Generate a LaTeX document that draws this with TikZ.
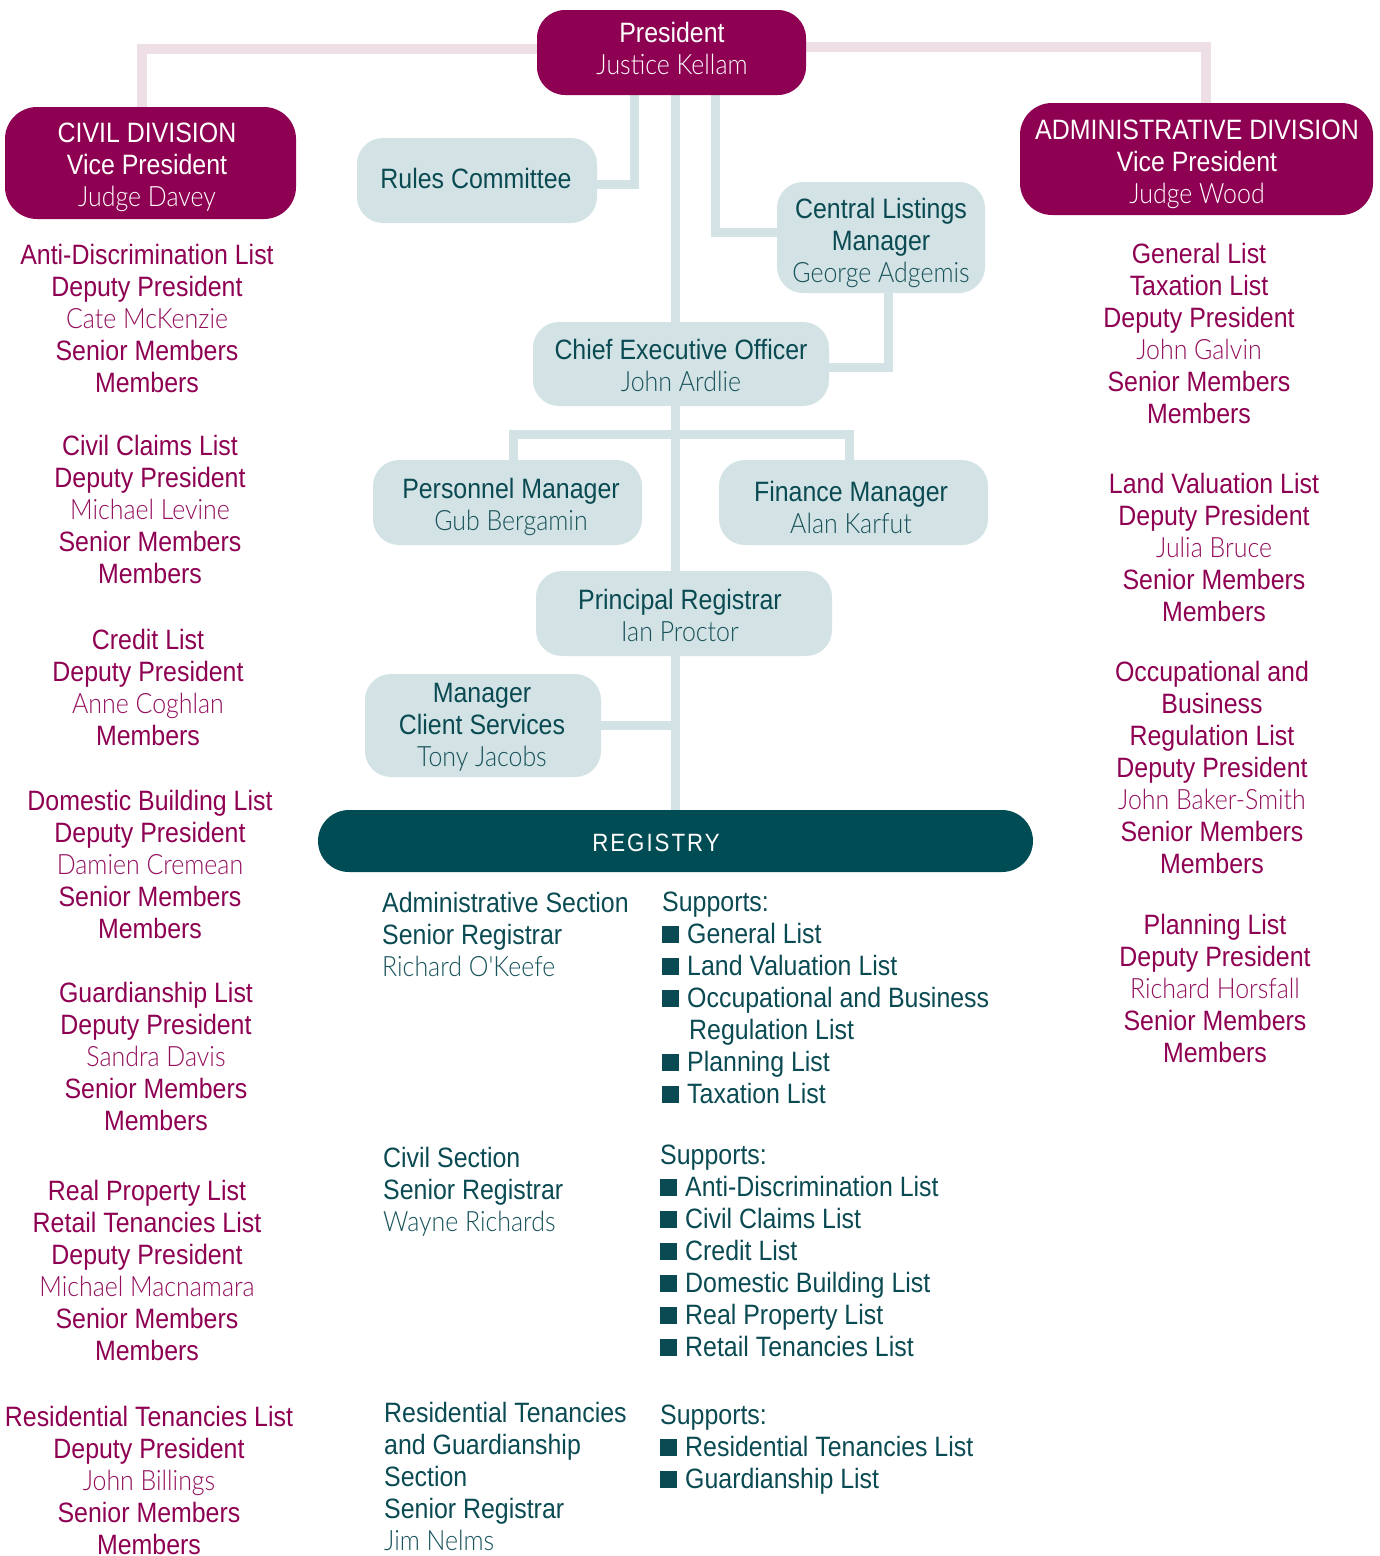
\documentclass[tikz,border=0pt]{standalone}
\usepackage{fontspec}
\setmainfont{Liberation Sans}[FakeStretch=0.89]
\newfontfamily\lightfont{Lato Light}[FakeStretch=0.89]
\usetikzlibrary{calc,backgrounds}

\definecolor{maroon}{HTML}{8E0052}
\definecolor{maroonlt}{HTML}{930F5C}
\definecolor{tealdk}{HTML}{0A4A52}
\definecolor{teallt}{HTML}{17525A}
\definecolor{tealbar}{HTML}{004C55}
\definecolor{tealfill}{HTML}{D3E2E4}
\definecolor{pinkline}{HTML}{EEDFE7}

% text variants used inside the line stacks
\newcommand\MarT{\color{maroon}}
\newcommand\MarN{\color{maroonlt}\lightfont}
\newcommand\TeaT{\color{tealdk}}
\newcommand\TeaN{\color{teallt}\lightfont}
\newcommand\WhT{\color{white}}
\newcommand\WhN{\color{white}\lightfont}
\newcommand\TeaB{\color{tealdk}\rule{17pt}{17pt}\hspace{8pt}}
\newcommand\TeaI{\color{tealdk}\hspace{27pt}}

% #1 style, #2 x, #3 first baseline, #4 name prefix, #5 variant/text pairs
\newcommand\linestack[5]{%
  \foreach \f/\t [count=\i from 0] in {#5}{%
    \node[#1] (#4\i) at (#2, #3+32*\i) {\f\t};
  }}

\tikzset{
  mbox/.style={rounded corners=28pt, fill=maroon, inner sep=0pt},
  tbox/.style={rounded corners=26pt, fill=tealfill, inner sep=0pt},
  pinkc/.style={draw=pinkline, line width=10pt, line join=miter},
  tealc/.style={draw=tealfill, line width=9pt, line join=miter},
  lc/.style={anchor=base, inner sep=0pt, font=\fontsize{28}{32}\selectfont},
  ll/.style={anchor=base west, inner sep=0pt, font=\fontsize{28}{32}\selectfont},
}

\begin{document}
\begin{tikzpicture}[x=1pt, y=-1pt]
\useasboundingbox (0,0) rectangle (1380,1556);

% boxes (shapes only; their text is set below)
\node[mbox, minimum width=269pt, minimum height=85pt] (pres) at (671.5,52.5) {};
\node[mbox, minimum width=291pt, minimum height=112pt, rounded corners=32pt] (civil) at (150.5,163) {};
\node[mbox, minimum width=353pt, minimum height=112pt, rounded corners=32pt] (admin) at (1196.5,159) {};
\node[tbox, minimum width=240pt, minimum height=85pt] (rules) at (477,180.5) {};
\node[tbox, minimum width=208pt, minimum height=111pt] (clm) at (881,237.5) {};
\node[tbox, minimum width=296pt, minimum height=84pt] (ceo) at (681,364) {};
\node[tbox, minimum width=269pt, minimum height=85pt] (pers) at (507.5,502.5) {};
\node[tbox, minimum width=269pt, minimum height=85pt] (fin) at (853.5,502.5) {};
\node[tbox, minimum width=296pt, minimum height=85pt] (pr) at (684,613.5) {};
\node[tbox, minimum width=236pt, minimum height=103pt] (mcs) at (483,725.5) {};
\node[fill=tealbar, rounded corners=31pt, inner sep=0pt, minimum width=715pt, minimum height=62pt] (reg) at (675.5,841) {};

% connectors, drawn behind the boxes
\begin{scope}[on background layer]
  \draw[pinkc] ([yshift=4pt]pres.west) -| ([xshift=-9pt]civil.north);
  \draw[pinkc] ([yshift=6pt]pres.east) -| ([xshift=9pt]admin.north);
  \draw[tealc] ([xshift=-37pt]pres.south) |- ([yshift=-3.5pt]rules.east);
  \draw[tealc] (pres.south -| reg.north) -- (reg.north);
  \draw[tealc] ([xshift=44pt]pres.south) |- ([yshift=5pt]clm.west);
  \draw[tealc] ([xshift=7pt]clm.south) |- ([yshift=-3pt]ceo.east);
  \draw[tealc] ([xshift=6pt]pers.north) -- ++(0,-25) -| ([xshift=-4pt]fin.north);
  \draw[tealc] (mcs.east) -- (mcs.east -| reg.north);
\end{scope}

% box texts
\linestack{lc}{672}{42}{pres-}{\WhT/President, \WhN/Justice Kellam}
\linestack{lc}{147}{142}{civil-}{\WhT/CIVIL DIVISION, \WhT/Vice President, \WhN/Judge Davey}
\linestack{lc}{1197}{139}{admin-}{\WhT/ADMINISTRATIVE DIVISION, \WhT/Vice President, \WhN/Judge Wood}
\linestack{lc}{476}{188}{rules-}{\TeaT/Rules Committee}
\linestack{lc}{881}{218}{clm-}{\TeaT/Central Listings, \TeaT/Manager, \TeaN/George Adgemis}
\linestack{lc}{681}{359}{ceo-}{\TeaT/Chief Executive Officer, \TeaN/John Ardlie}
\linestack{lc}{511}{498}{pers-}{\TeaT/Personnel Manager, \TeaN/Gub Bergamin}
\linestack{lc}{851}{501}{fin-}{\TeaT/Finance Manager, \TeaN/Alan Karfut}
\linestack{lc}{680}{609}{pr-}{\TeaT/Principal Registrar, \TeaN/Ian Proctor}
\linestack{lc}{482}{702}{mcs-}{\TeaT/Manager, \TeaT/Client Services, \TeaN/Tony Jacobs}
\node[lc, font=\fontsize{25}{30}\selectfont\addfontfeature{LetterSpace=8}, text=white] (reg-t) at (656,851) {REGISTRY};

% civil division lists
\linestack{lc}{147}{264}{cl1-}{\MarT/Anti-Discrimination List, \MarT/Deputy President, \MarN/Cate McKenzie, \MarT/Senior Members, \MarT/Members}
\linestack{lc}{150}{455}{cl2-}{\MarT/Civil Claims List, \MarT/Deputy President, \MarN/Michael Levine, \MarT/Senior Members, \MarT/Members}
\linestack{lc}{148}{649}{cl3-}{\MarT/Credit List, \MarT/Deputy President, \MarN/Anne Coghlan, \MarT/Members}
\linestack{lc}{150}{810}{cl4-}{\MarT/Domestic Building List, \MarT/Deputy President, \MarN/Damien Cremean, \MarT/Senior Members, \MarT/Members}
\linestack{lc}{156}{1002}{cl5-}{\MarT/Guardianship List, \MarT/Deputy President, \MarN/Sandra Davis, \MarT/Senior Members, \MarT/Members}
\linestack{lc}{147}{1200}{cl6-}{\MarT/Real Property List, \MarT/Retail Tenancies List, \MarT/Deputy President, \MarN/Michael Macnamara, \MarT/Senior Members, \MarT/Members}
\linestack{lc}{149}{1426}{cl7-}{\MarT/Residential Tenancies List, \MarT/Deputy President, \MarN/John Billings, \MarT/Senior Members, \MarT/Members}

% administrative division lists
\linestack{lc}{1199}{263}{al1-}{\MarT/General List, \MarT/Taxation List, \MarT/Deputy President, \MarN/John Galvin, \MarT/Senior Members, \MarT/Members}
\linestack{lc}{1214}{493}{al2-}{\MarT/Land Valuation List, \MarT/Deputy President, \MarN/Julia Bruce, \MarT/Senior Members, \MarT/Members}
\linestack{lc}{1212}{681}{al3-}{\MarT/Occupational and, \MarT/Business, \MarT/Regulation List, \MarT/Deputy President, \MarN/John Baker-Smith, \MarT/Senior Members, \MarT/Members}
\linestack{lc}{1215}{934}{al4-}{\MarT/Planning List, \MarT/Deputy President, \MarN/Richard Horsfall, \MarT/Senior Members, \MarT/Members}

% registry sections
\linestack{ll}{382}{912}{rs1-}{\TeaT/Administrative Section, \TeaT/Senior Registrar, \TeaN/Richard O'Keefe}
\linestack{ll}{662}{911}{sp1-}{\TeaT/Supports:, \TeaB/General List, \TeaB/Land Valuation List, \TeaB/Occupational and Business, \TeaI/Regulation List, \TeaB/Planning List, \TeaB/Taxation List}
\linestack{ll}{383}{1167}{rs2-}{\TeaT/Civil Section, \TeaT/Senior Registrar, \TeaN/Wayne Richards}
\linestack{ll}{660}{1164}{sp2-}{\TeaT/Supports:, \TeaB/Anti-Discrimination List, \TeaB/Civil Claims List, \TeaB/Credit List, \TeaB/Domestic Building List, \TeaB/Real Property List, \TeaB/Retail Tenancies List}
\linestack{ll}{384}{1422}{rs3-}{\TeaT/Residential Tenancies, \TeaT/and Guardianship, \TeaT/Section, \TeaT/Senior Registrar, \TeaN/Jim Nelms}
\linestack{ll}{660}{1424}{sp3-}{\TeaT/Supports:, \TeaB/Residential Tenancies List, \TeaB/Guardianship List}
\end{tikzpicture}
\end{document}
